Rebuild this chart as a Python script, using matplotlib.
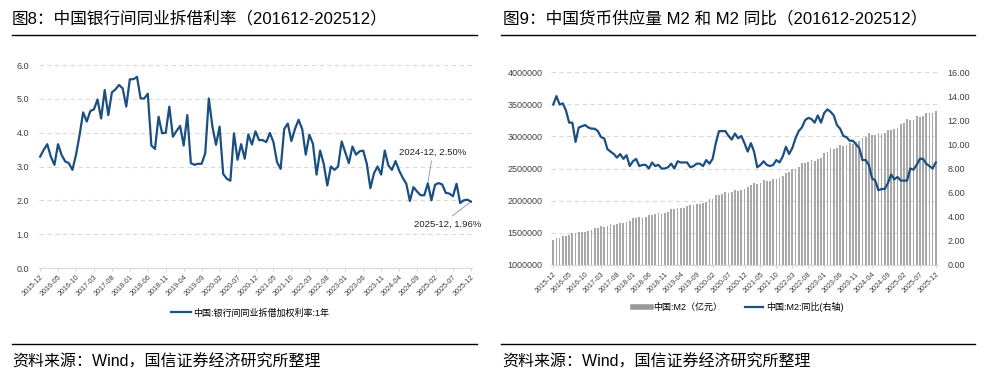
import numpy as np
import pandas as pd
import matplotlib
matplotlib.use('Agg')
import matplotlib.pyplot as plt
from matplotlib.lines import Line2D

plt.rcParams['font.family'] = ['Liberation Sans', 'Noto Sans CJK SC', 'DejaVu Sans']
plt.rcParams['axes.unicode_minus'] = False

# months 2015-12 .. 2025-12
months = pd.date_range('2015-12-01', '2025-12-01', freq='MS').strftime('%Y-%m').tolist()

# interbank lending weighted rate, 1Y (%)
ibor_1y = [
    3.29, 3.49, 3.66, 3.29, 3.05, 3.66, 3.34, 3.15, 3.10, 2.90, 3.34, 3.93,
    4.60, 4.33, 4.64, 4.69, 4.98, 4.42, 5.26, 4.52, 5.19, 5.28, 5.41, 5.31,
    4.77, 5.58, 5.58, 5.65, 5.01, 5.01, 5.15, 3.62, 3.52, 4.47, 3.98, 4.00,
    4.77, 3.88, 4.05, 4.20, 3.62, 4.52, 3.10, 3.05, 3.08, 3.08, 3.39, 5.01,
    4.18, 3.64, 4.18, 2.78, 2.64, 2.58, 3.98, 3.20, 3.66, 3.23, 3.95, 3.65,
    4.04, 3.78, 3.78, 3.72, 3.99, 3.72, 3.13, 2.93, 4.11, 4.27, 3.75, 4.11,
    4.38, 4.11, 3.35, 3.94, 3.67, 2.76, 3.47, 3.08, 2.44, 3.00, 2.90, 3.00,
    3.74, 3.42, 3.10, 3.59, 3.35, 3.45, 3.47, 3.08, 2.36, 2.80, 3.00, 2.76,
    3.47, 3.03, 2.90, 3.16, 2.88, 2.67, 2.49, 1.98, 2.39, 2.26, 2.15, 2.15,
    2.50, 2.00, 2.46, 2.51, 2.47, 2.22, 2.20, 2.12, 2.49, 1.92, 2.00, 2.02,
    1.96,
]

# M2 (100 million yuan)
m2 = [
    1392278,
    1416319, 1424619, 1446198, 1444157, 1461695, 1490492, 1491560, 1511089, 1516360, 1519485, 1530440, 1550067,
    1575945, 1582888, 1599617, 1596332, 1601360, 1631282, 1627559, 1640027, 1655662, 1653437, 1670099, 1676769,
    1723581, 1729171, 1739859, 1737683, 1740008, 1770178, 1775614, 1788670, 1801665, 1792579, 1813175, 1826744,
    1865935, 1867427, 1889412, 1884670, 1891544, 1921360, 1925439, 1935480, 1952250, 1946401, 1964016, 1986489,
    2023066, 2030830, 2080923, 2093533, 2100184, 2134949, 2125458, 2136837, 2164085, 2149720, 2172002, 2186796,
    2213047, 2236030, 2276488, 2262107, 2275539, 2317788, 2302202, 2312267, 2342830, 2336160, 2352894, 2382899,
    2431023, 2441488, 2497688, 2499688, 2527026, 2581451, 2578079, 2595068, 2626600, 2612914, 2647008, 2664321,
    2738072, 2755249, 2814566, 2808469, 2820504, 2873023, 2853797, 2865712, 2896659, 2882278, 2914010, 2922713,
    2976250, 2991200, 3047952, 3014600, 3017900, 3053100, 3039600, 3054800, 3098000, 3092000, 3118000, 3135822,
    3184900, 3206500, 3265000, 3257800, 3259000, 3308600, 3297000, 3314600, 3356000, 3358000, 3369000, 3400000,
]

# M2 yoy (%)
m2_yoy = [
    13.3,
    14.0, 13.3, 13.4, 12.8, 11.8, 11.8, 10.2, 11.4, 11.5, 11.6, 11.4, 11.3,
    11.3, 11.1, 10.6, 10.5, 9.6, 9.4, 9.2, 8.9, 9.2, 8.8, 9.1, 8.2,
    8.6, 8.8, 8.2, 8.3, 8.3, 8.0, 8.5, 8.2, 8.3, 8.0, 8.0, 8.1,
    8.4, 8.0, 8.6, 8.5, 8.5, 8.5, 8.1, 8.2, 8.4, 8.4, 8.2, 8.7,
    8.4, 8.8, 10.1, 11.1, 11.1, 11.1, 10.7, 10.4, 10.9, 10.5, 10.7, 10.1,
    9.4, 10.1, 9.4, 8.1, 8.3, 8.6, 8.3, 8.2, 8.3, 8.7, 8.5, 9.0,
    9.8, 9.2, 9.7, 10.5, 11.1, 11.4, 12.0, 12.2, 12.1, 11.8, 12.4, 11.8,
    12.6, 12.9, 12.7, 12.4, 11.6, 11.3, 10.7, 10.6, 10.3, 10.3, 10.0, 9.7,
    8.7, 8.7, 8.3, 7.2, 7.0, 6.2, 6.3, 6.3, 6.8, 7.5, 7.1, 7.3,
    7.0, 7.0, 7.0, 8.0, 7.9, 8.3, 8.8, 8.8, 8.4, 8.2, 8.0, 8.5,
]

title_l = '图8：中国银行间同业拆借利率（201612-202512）'
title_r = '图9：中国货币供应量 M2 和 M2 同比（201612-202512）'
source = '资料来源：Wind，国信证券经济研究所整理'
legend_l = '中国:银行间同业拆借加权利率:1年'
legend_m2 = '中国:M2（亿元）'
legend_yoy = '中国:M2:同比(右轴)'

blue = '#1b4f82'
bar_gray = '#a8a8a8'
grid_c = '#d9d9d9'
tick_c = '#404040'

W, H = 996, 386
fig = plt.figure(figsize=(W / 100, H / 100), dpi=100)
fig.patch.set_facecolor('white')


def px_axes(x0, y0, x1, y1):
    return fig.add_axes([x0 / W, 1 - y1 / H, (x1 - x0) / W, (y1 - y0) / H])


def hline(x0, x1, y):
    fig.add_artist(Line2D([x0 / W, x1 / W], [1 - y / H, 1 - y / H],
                          color='black', lw=1.0, transform=fig.transFigure))


x = np.arange(len(months))
xticks = x[::5]
xlabels = [months[i] for i in xticks]

# ---------------- left chart ----------------
fig.text(12 / W, 1 - 18 / H, title_l, fontsize=12, va='center', ha='left')
hline(12, 477, 35)

ax = px_axes(39, 65, 472, 268)
ax.plot(x, ibor_1y, color=blue, lw=1.6, label=legend_l)
ax.set_xlim(-0.3, 120.3)
ax.set_ylim(0, 6)
ax.set_yticks(np.arange(0, 6.1, 1.0))
ax.set_yticklabels(['%.1f' % v for v in np.arange(0, 6.1, 1.0)])
ax.yaxis.grid(True, color=grid_c, lw=0.8, dashes=(4, 3))
ax.set_axisbelow(True)
for s in ['top', 'right', 'left']:
    ax.spines[s].set_visible(False)
ax.spines['bottom'].set_color(grid_c)
ax.tick_params(axis='y', length=0, labelsize=6.5, colors=tick_c, pad=7)
ax.set_xticks(xticks)
ax.set_xticklabels(xlabels, rotation=45, ha='right', rotation_mode='anchor')
ax.tick_params(axis='x', length=2, color=grid_c, labelsize=5.2, colors=tick_c, pad=2)

ax.annotate('2024-12, 2.50%', xy=(108, 2.50), xytext=(109.4, 3.42),
            fontsize=6.8, ha='center', va='center', color='#222222',
            arrowprops=dict(arrowstyle='-', color='#909090', lw=0.6, shrinkA=1, shrinkB=1))
ax.annotate('2025-12, 1.96%', xy=(120, 1.96), xytext=(113.5, 1.30),
            fontsize=6.8, ha='center', va='center', color='#222222',
            arrowprops=dict(arrowstyle='-', color='#909090', lw=0.6, shrinkA=1, shrinkB=1,
                            relpos=(0.5, 1.0)))

fig.legend(handles=[Line2D([], [], color=blue, lw=1.6)], labels=[legend_l],
           loc='center', bbox_to_anchor=(250 / W, 1 - 313 / H), frameon=False,
           fontsize=6.5, handlelength=2.2, handletextpad=0.3)

hline(12, 477, 344)
fig.text(12 / W, 1 - 362 / H, source, fontsize=11.5, va='center', ha='left')

# ---------------- right chart ----------------
fig.text(503 / W, 1 - 18 / H, title_r, fontsize=12, va='center', ha='left')
hline(501, 975, 35)

ax2 = px_axes(551, 72, 938, 265)
ax2.bar(x, m2, width=0.55, color=bar_gray, label=legend_m2)
ax2.set_xlim(-0.7, 120.7)
ax2.set_ylim(1000000, 4000000)
ax2.set_yticks(np.arange(1000000, 4000001, 500000))
ax2.set_yticklabels(['%d' % v for v in np.arange(1000000, 4000001, 500000)])
ax2.yaxis.grid(True, color=grid_c, lw=0.8, dashes=(4, 3))
ax2.set_axisbelow(True)
for s in ['top', 'right', 'left']:
    ax2.spines[s].set_visible(False)
ax2.spines['bottom'].set_color(grid_c)
ax2.tick_params(axis='y', length=0, labelsize=6.5, colors=tick_c, pad=6)
ax2.set_xticks(xticks)
ax2.set_xticklabels(xlabels, rotation=45, ha='right', rotation_mode='anchor')
ax2.tick_params(axis='x', length=2, color=grid_c, labelsize=5.2, colors=tick_c, pad=2)

ax3 = ax2.twinx()
ax3.plot(x, m2_yoy, color=blue, lw=1.6, label=legend_yoy)
ax3.set_ylim(0, 16)
ax3.set_yticks(np.arange(0, 16.1, 2))
ax3.set_yticklabels(['%.2f' % v for v in np.arange(0, 16.1, 2)])
for s in ['top', 'right', 'left', 'bottom']:
    ax3.spines[s].set_visible(False)
ax3.tick_params(axis='y', length=0, labelsize=6.5, colors=tick_c, pad=7)

fig.legend(handles=[Line2D([], [], color='#999999', lw=4),
                    Line2D([], [], color=blue, lw=1.6)],
           labels=[legend_m2, legend_yoy], ncol=2,
           loc='center', bbox_to_anchor=(738 / W, 1 - 307 / H), frameon=False,
           fontsize=6.5, handlelength=2.0, handletextpad=0.3, columnspacing=2.5)

hline(501, 975, 344)
fig.text(502 / W, 1 - 362 / H, source, fontsize=11.5, va='center', ha='left')

fig.savefig('out.png', dpi=100, facecolor='white')
